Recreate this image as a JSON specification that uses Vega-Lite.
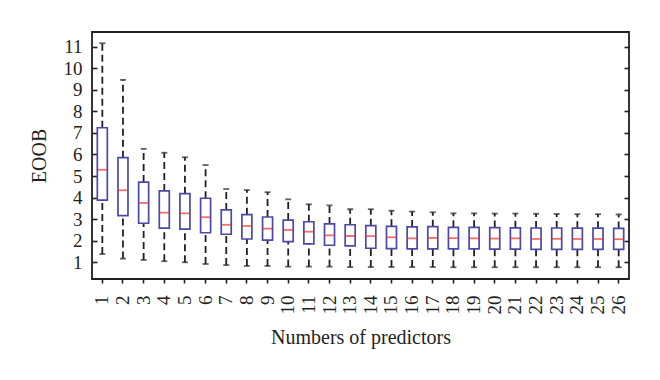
{
  "$schema": "https://vega.github.io/schema/vega-lite/v6.json",
  "width": 537,
  "height": 247,
  "autosize": {"type": "none"},
  "padding": {"left": 92, "top": 32, "right": 31, "bottom": 101},
  "background": "white",
  "config": {
    "view": {"stroke": "#231f20", "strokeWidth": 1.8},
    "font": "Liberation Serif",
    "axis": {"grid": false, "domain": false, "labelFont": "Liberation Serif", "titleFont": "Liberation Serif", "labelColor": "#231f20", "titleColor": "#231f20", "tickColor": "#231f20", "titleFontWeight": "normal", "tickWidth": 1.6}
  },
  "data": {"values": [
    {"n": 1, "lo": 1.38, "q1": 3.88, "med": 5.29, "q3": 7.24, "hi": 11.16},
    {"n": 2, "lo": 1.17, "q1": 3.16, "med": 4.34, "q3": 5.85, "hi": 9.46},
    {"n": 3, "lo": 1.11, "q1": 2.81, "med": 3.75, "q3": 4.72, "hi": 6.26},
    {"n": 4, "lo": 1.05, "q1": 2.58, "med": 3.30, "q3": 4.31, "hi": 6.08},
    {"n": 5, "lo": 1.00, "q1": 2.54, "med": 3.27, "q3": 4.18, "hi": 5.87},
    {"n": 6, "lo": 0.92, "q1": 2.37, "med": 3.09, "q3": 3.97, "hi": 5.51},
    {"n": 7, "lo": 0.87, "q1": 2.30, "med": 2.74, "q3": 3.43, "hi": 4.40},
    {"n": 8, "lo": 0.83, "q1": 2.08, "med": 2.68, "q3": 3.21, "hi": 4.35},
    {"n": 9, "lo": 0.83, "q1": 2.03, "med": 2.56, "q3": 3.10, "hi": 4.25},
    {"n": 10, "lo": 0.80, "q1": 1.96, "med": 2.50, "q3": 2.96, "hi": 3.92},
    {"n": 11, "lo": 0.80, "q1": 1.85, "med": 2.42, "q3": 2.88, "hi": 3.69},
    {"n": 12, "lo": 0.80, "q1": 1.79, "med": 2.25, "q3": 2.78, "hi": 3.64},
    {"n": 13, "lo": 0.78, "q1": 1.76, "med": 2.22, "q3": 2.74, "hi": 3.46},
    {"n": 14, "lo": 0.78, "q1": 1.65, "med": 2.21, "q3": 2.70, "hi": 3.46},
    {"n": 15, "lo": 0.78, "q1": 1.63, "med": 2.16, "q3": 2.67, "hi": 3.39},
    {"n": 16, "lo": 0.78, "q1": 1.62, "med": 2.11, "q3": 2.64, "hi": 3.35},
    {"n": 17, "lo": 0.78, "q1": 1.62, "med": 2.13, "q3": 2.65, "hi": 3.32},
    {"n": 18, "lo": 0.77, "q1": 1.62, "med": 2.12, "q3": 2.62, "hi": 3.27},
    {"n": 19, "lo": 0.77, "q1": 1.62, "med": 2.11, "q3": 2.62, "hi": 3.27},
    {"n": 20, "lo": 0.77, "q1": 1.61, "med": 2.10, "q3": 2.61, "hi": 3.26},
    {"n": 21, "lo": 0.77, "q1": 1.61, "med": 2.11, "q3": 2.60, "hi": 3.26},
    {"n": 22, "lo": 0.77, "q1": 1.60, "med": 2.08, "q3": 2.59, "hi": 3.25},
    {"n": 23, "lo": 0.77, "q1": 1.60, "med": 2.09, "q3": 2.59, "hi": 3.24},
    {"n": 24, "lo": 0.77, "q1": 1.60, "med": 2.08, "q3": 2.58, "hi": 3.23},
    {"n": 25, "lo": 0.77, "q1": 1.60, "med": 2.08, "q3": 2.58, "hi": 3.23},
    {"n": 26, "lo": 0.77, "q1": 1.60, "med": 2.07, "q3": 2.57, "hi": 3.22}
  ]},
  "encoding": {
    "x": {
      "field": "n", "type": "ordinal",
      "scale": {"paddingInner": 0, "paddingOuter": 0},
      "axis": {"title": "Numbers of predictors", "labelAngle": -90, "labelFontSize": 19, "titleFontSize": 20, "tickSize": 4, "labelPadding": 12, "titlePadding": 13}
    }
  },
  "layer": [
    {
      "mark": {"type": "rule", "color": "#231f20", "strokeWidth": 1.8, "strokeDash": [7, 4]},
      "encoding": {
        "y": {"field": "lo", "type": "quantitative", "scale": {"domain": [0.225, 11.68], "nice": false, "zero": false},
          "axis": {"title": "EOOB", "orient": "left", "values": [1,2,3,4,5,6,7,8,9,10,11], "labelFontSize": 19, "titleFontSize": 20, "tickSize": -5, "labelPadding": 15, "titlePadding": 14}},
        "y2": {"field": "q1"}
      }
    },
    {
      "mark": {"type": "rule", "color": "#231f20", "strokeWidth": 1.8, "strokeDash": [7, 4]},
      "encoding": {
        "y": {"field": "q3", "type": "quantitative", "axis": {"orient": "right", "values": [1,2,3,4,5,6,7,8,9,10,11], "labels": false, "title": null, "tickSize": -5}},
        "y2": {"field": "hi"}
      }
    },
    {
      "mark": {"type": "tick", "color": "#231f20", "size": 6, "thickness": 1.8},
      "encoding": {"y": {"field": "lo", "type": "quantitative", "axis": null}}
    },
    {
      "mark": {"type": "tick", "color": "#231f20", "size": 6, "thickness": 1.8},
      "encoding": {"y": {"field": "hi", "type": "quantitative", "axis": null}}
    },
    {
      "mark": {"type": "bar", "fill": "white", "stroke": "#4a48a8", "strokeWidth": 1.7, "size": 10},
      "encoding": {
        "y": {"field": "q1", "type": "quantitative", "axis": null},
        "y2": {"field": "q3"}
      }
    },
    {
      "mark": {"type": "tick", "color": "#e8322a", "size": 10, "thickness": 1.8},
      "encoding": {"y": {"field": "med", "type": "quantitative", "axis": null}}
    }
  ],
  "resolve": {"axis": {"y": "independent"}}
}
